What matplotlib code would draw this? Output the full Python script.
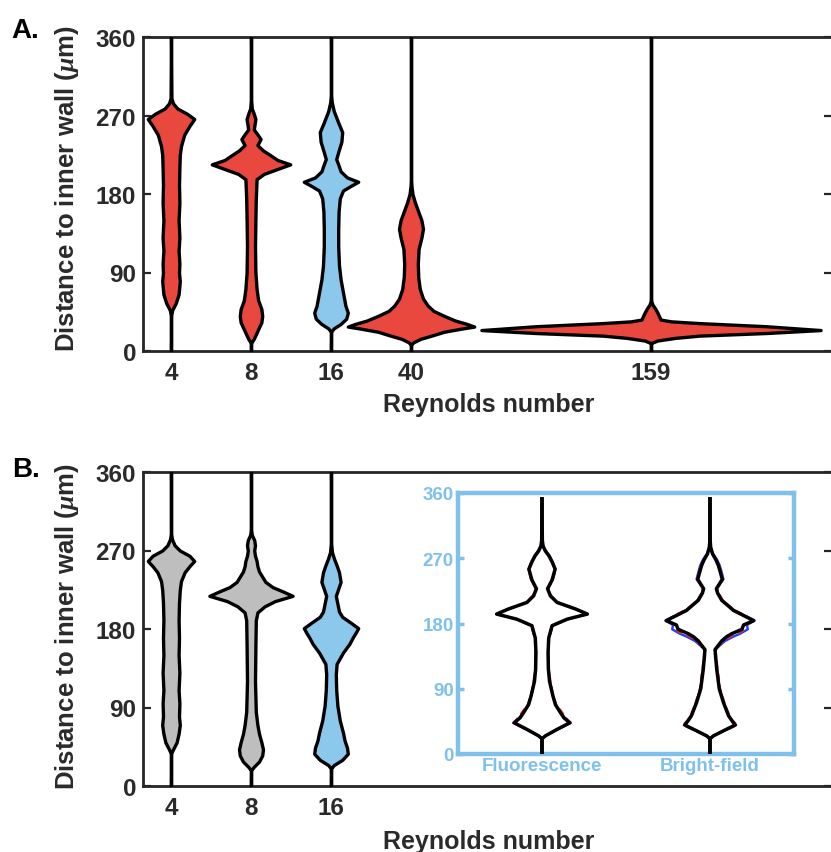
import matplotlib
matplotlib.use("Agg")
import matplotlib.pyplot as plt

plt.rcParams['font.family'] = ['Liberation Sans', 'DejaVu Sans']
plt.rcParams['font.weight'] = 'bold'
plt.rcParams['mathtext.fontset'] = 'custom'
plt.rcParams['mathtext.it'] = 'Liberation Serif:italic'

# ---------------- data ----------------
# Panel A
A_labels = ['4', '8', '16', '40', '159']
A_pos = [1, 2, 3, 4, 7]
A_colors = ['red', 'red', 'blue', 'red', 'red']

A4_y = [0, 40, 47, 55, 65, 80, 90, 100, 115, 130, 150, 170, 190, 210, 225, 235, 248, 258, 266, 272, 278, 284, 290, 360]
A4_w = [0, 0, 0.015, 0.06, 0.095, 0.11, 0.1, 0.105, 0.095, 0.105, 0.095, 0.105, 0.1, 0.105, 0.11, 0.125, 0.165, 0.23, 0.29, 0.2, 0.08, 0.025, 0.005, 0]

A8_y = [0, 9, 14, 25, 33, 40, 48, 58, 71, 90, 120, 150, 175, 197, 203, 208, 214, 219, 224, 230, 236, 243, 249, 254, 260, 266, 272, 278, 290, 360]
A8_w = [0, 0, 0.035, 0.09, 0.13, 0.14, 0.13, 0.09, 0.07, 0.055, 0.05, 0.055, 0.06, 0.07, 0.16, 0.31, 0.49, 0.33, 0.25, 0.15, 0.08, 0.12, 0.075, 0.035, 0.045, 0.055, 0.035, 0.01, 0, 0]

A16_y = [0, 22, 26, 31, 37, 44, 52, 67, 82, 98, 120, 140, 160, 175, 184, 190, 194, 199, 206, 214, 220, 228, 240, 251, 262, 275, 285, 295, 360]
A16_w = [0, 0, 0.035, 0.12, 0.19, 0.21, 0.18, 0.15, 0.12, 0.1, 0.09, 0.09, 0.095, 0.11, 0.15, 0.26, 0.34, 0.2, 0.12, 0.09, 0.065, 0.09, 0.13, 0.14, 0.09, 0.035, 0.01, 0, 0]

A40_y = [0, 7, 10, 14, 18, 22, 25.5, 28, 31, 35, 40, 46, 52, 60, 71, 85, 100, 117, 130, 140, 150, 160, 170, 180, 190, 200, 360]
A40_w = [0, 0, 0.03, 0.12, 0.27, 0.41, 0.62, 0.79, 0.7, 0.55, 0.42, 0.28, 0.21, 0.15, 0.11, 0.09, 0.085, 0.095, 0.13, 0.15, 0.13, 0.09, 0.05, 0.018, 0.005, 0, 0]

A159_y = [0, 9, 12, 15, 17.6, 20.6, 24, 28.4, 32, 34, 36, 40, 44, 49, 53, 57, 65, 360]
A159_w = [0, 0, 0.08, 0.3, 0.6, 1.44, 2.12, 1.44, 0.6, 0.25, 0.12, 0.1, 0.08, 0.05, 0.02, 0.004, 0, 0]

# Panel B
B_labels = ['4', '8', '16']
B_pos = [1, 2, 3]
B_colors = ['gray', 'gray', 'blue']

B4_y = [0, 37, 42, 50, 60, 70, 80, 95, 110, 130, 150, 170, 190, 210, 225, 235, 245, 252, 258, 264, 270, 276, 283, 290, 360]
B4_w = [0, 0, 0.025, 0.07, 0.095, 0.11, 0.1, 0.105, 0.095, 0.105, 0.095, 0.1, 0.095, 0.1, 0.11, 0.125, 0.17, 0.23, 0.29, 0.23, 0.11, 0.045, 0.012, 0, 0]

B8_y = [0, 18, 22, 28, 35, 42, 50, 60, 70, 85, 120, 160, 190, 199, 206, 212, 218, 223, 228, 234, 240, 246, 252, 258, 264, 270, 276, 282, 288, 295, 360]
B8_w = [0, 0, 0.035, 0.1, 0.14, 0.15, 0.13, 0.1, 0.08, 0.06, 0.05, 0.055, 0.06, 0.08, 0.17, 0.3, 0.52, 0.4, 0.27, 0.18, 0.14, 0.1, 0.08, 0.07, 0.05, 0.04, 0.05, 0.04, 0.01, 0, 0]

B16_y = [0, 20, 24, 30, 37, 44, 52, 61, 75, 92, 110, 128, 140, 153, 163, 170, 176, 181, 187, 194, 200, 209, 218, 226, 234, 245, 253, 260, 268, 280, 360]
B16_w = [0, 0, 0.035, 0.14, 0.21, 0.2, 0.17, 0.15, 0.11, 0.08, 0.065, 0.06, 0.07, 0.15, 0.23, 0.27, 0.31, 0.34, 0.25, 0.14, 0.1, 0.08, 0.06, 0.09, 0.12, 0.1, 0.07, 0.04, 0.012, 0, 0]

# Inset (Fluorescence / Bright-field), three overlaid outlines
IN_labels = ['Fluorescence', 'Bright-field']
IN_pos = [1, 2]

FL_y = [0, 21, 25, 34, 43, 50, 57, 68, 80, 100, 117, 140, 160, 177, 186, 193, 200, 209, 218, 228, 240, 255, 265, 273, 280, 287, 295, 352]
FL_black = [0, 0, 0.02, 0.09, 0.165, 0.13, 0.11, 0.08, 0.065, 0.045, 0.038, 0.036, 0.04, 0.06, 0.15, 0.27, 0.2, 0.09, 0.05, 0.033, 0.06, 0.078, 0.06, 0.042, 0.02, 0.006, 0.002, 0]
FL_red = [0, 0, 0.02, 0.095, 0.17, 0.14, 0.12, 0.085, 0.065, 0.05, 0.04, 0.038, 0.042, 0.065, 0.155, 0.27, 0.2, 0.095, 0.055, 0.036, 0.065, 0.08, 0.063, 0.045, 0.022, 0.007, 0.002, 0]
FL_blue = [0, 0, 0.02, 0.092, 0.172, 0.135, 0.112, 0.082, 0.066, 0.047, 0.039, 0.037, 0.041, 0.062, 0.152, 0.27, 0.2, 0.092, 0.052, 0.035, 0.063, 0.08, 0.062, 0.046, 0.024, 0.006, 0.002, 0]

BF_y = [0, 21, 25, 32, 40, 46, 53, 62, 71, 90, 117, 135, 144, 150, 156, 162, 166, 172, 178, 184, 191, 198, 204, 212, 222, 228, 241, 252, 260, 268, 276, 285, 295, 352]
BF_black = [0, 0, 0.02, 0.08, 0.15, 0.13, 0.11, 0.095, 0.08, 0.055, 0.04, 0.033, 0.03, 0.05, 0.07, 0.1, 0.13, 0.19, 0.2, 0.26, 0.2, 0.14, 0.11, 0.07, 0.045, 0.038, 0.073, 0.06, 0.05, 0.035, 0.015, 0.004, 0.001, 0]
BF_red = [0, 0, 0.02, 0.085, 0.16, 0.135, 0.115, 0.1, 0.085, 0.06, 0.045, 0.036, 0.033, 0.055, 0.08, 0.12, 0.16, 0.21, 0.21, 0.26, 0.21, 0.15, 0.115, 0.075, 0.05, 0.042, 0.078, 0.065, 0.055, 0.04, 0.017, 0.005, 0.001, 0]
BF_blue = [0, 0, 0.02, 0.082, 0.155, 0.132, 0.112, 0.097, 0.082, 0.057, 0.042, 0.034, 0.031, 0.06, 0.09, 0.14, 0.18, 0.225, 0.22, 0.265, 0.205, 0.145, 0.112, 0.072, 0.047, 0.04, 0.08, 0.068, 0.058, 0.042, 0.018, 0.005, 0.001, 0]

y_ticks = [0, 90, 180, 270, 360]

# ---------------- style ----------------
COL = {'red': '#E8483D', 'blue': '#8CC7EC', 'gray': '#BEBEBE'}
INSET_BLUE = '#7FC1EA'
SPINE = '#262626'
TXT = '#2a2a2a'
FS = 17.5

W, H = 831, 853
fig = plt.figure(figsize=(W / 100, H / 100), dpi=100)


def px_rect(x0, y0, x1, y1):
    return [x0 / W, 1 - y1 / H, (x1 - x0) / W, (y1 - y0) / H]


def style_main(ax, labels, pos):
    ax.set_xlim(0.65, 9.2625)
    ax.set_ylim(0, 360)
    ax.set_yticks(y_ticks)
    ax.set_xticks(pos)
    ax.set_xticklabels(labels)
    for s in ax.spines.values():
        s.set_linewidth(2.0)
        s.set_color(SPINE)
    ax.tick_params(axis='both', direction='in', length=6, width=1.6, color=SPINE,
                   labelsize=FS, right=True, top=True)
    ax.tick_params(axis='x', pad=7)
    ax.tick_params(axis='y', pad=5)
    for t in ax.get_xticklabels() + ax.get_yticklabels():
        t.set_fontweight('bold')
        t.set_color(TXT)


def violin(ax, p, y, w, color):
    ax.fill_betweenx(y, [p - v for v in w], [p + v for v in w], facecolor=color,
                     edgecolor='black', linewidth=2.4, joinstyle='round', zorder=3)


# Panel A
axA = fig.add_axes(px_rect(143, 38, 832, 352))
style_main(axA, A_labels, A_pos)
A_y = [A4_y, A8_y, A16_y, A40_y, A159_y]
A_w = [A4_w, A8_w, A16_w, A40_w, A159_w]
for p, y, w, c in zip(A_pos, A_y, A_w, A_colors):
    violin(axA, p, y, w, COL[c])

# Panel B
axB = fig.add_axes(px_rect(143, 473, 832, 787))
style_main(axB, B_labels, B_pos)
B_y = [B4_y, B8_y, B16_y]
B_w = [B4_w, B8_w, B16_w]
for p, y, w, c in zip(B_pos, B_y, B_w, B_colors):
    violin(axB, p, y, w, COL[c])

# Inset
axI = fig.add_axes(px_rect(458, 494, 794, 755))
axI.set_facecolor('white')
axI.set_xlim(0.5, 2.5)
axI.set_ylim(0, 360)
axI.set_yticks(y_ticks)
axI.set_xticks(IN_pos)
axI.set_xticklabels(IN_labels)
for s in axI.spines.values():
    s.set_linewidth(3.2)
    s.set_color(INSET_BLUE)
axI.tick_params(axis='y', direction='in', length=4, width=2.5, color=INSET_BLUE,
                labelsize=13.5, labelcolor=INSET_BLUE, right=True, pad=3)
axI.tick_params(axis='x', length=0, labelsize=13.5, labelcolor=INSET_BLUE, pad=2)
for t in axI.get_xticklabels() + axI.get_yticklabels():
    t.set_fontweight('bold')

for p, y, wb, wr, wl in [(IN_pos[0], FL_y, FL_black, FL_red, FL_blue),
                         (IN_pos[1], BF_y, BF_black, BF_red, BF_blue)]:
    for side in (-1, 1):
        axI.plot([p + side * v for v in wl], y, color='#1f3cff', lw=1.7, zorder=3)
        axI.plot([p + side * v for v in wr], y, color='#ff2a2a', lw=1.7, ls=(0, (3, 2)), zorder=4)
        axI.plot([p + side * v for v in wb], y, color='black', lw=2.5, zorder=5,
                 solid_joinstyle='round')

# Labels
ylab = 'Distance to inner wall ($\\mu$m)'
fig.text(67 / W, 1 - 189 / H, ylab, rotation=90, ha='center', va='center',
         fontsize=18.5, fontweight='bold', color=TXT)
fig.text(67 / W, 1 - 627 / H, ylab, rotation=90, ha='center', va='center',
         fontsize=18.5, fontweight='bold', color=TXT)
fig.text(489 / W, 1 - 405 / H, 'Reynolds number', ha='center', va='center',
         fontsize=18, fontweight='bold', color=TXT)
fig.text(489 / W, 1 - 842 / H, 'Reynolds number', ha='center', va='center',
         fontsize=18, fontweight='bold', color=TXT)
fig.text(11 / W, 1 - 38 / H, 'A.', ha='left', va='baseline', fontsize=20, fontweight='bold')
fig.text(12 / W, 1 - 477 / H, 'B.', ha='left', va='baseline', fontsize=20, fontweight='bold')

fig.savefig('out.png', dpi=100)
